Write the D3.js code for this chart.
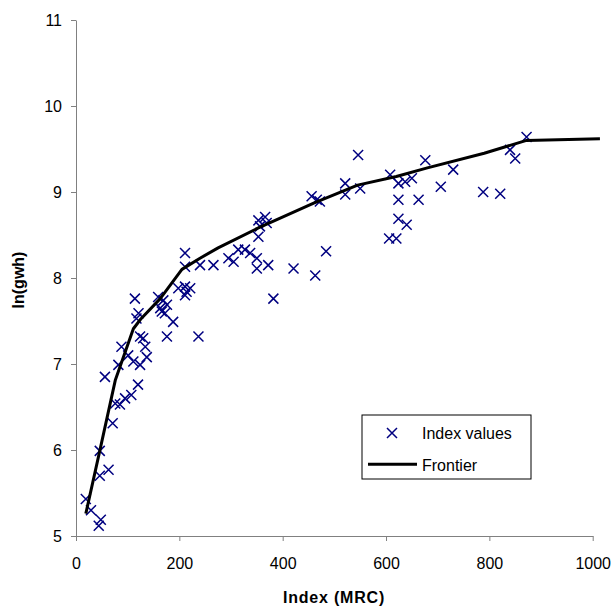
<!DOCTYPE html>
<html>
<head>
<meta charset="utf-8">
<script src="https://cdn.jsdelivr.net/npm/d3@7"></script>
<style>
  body { margin: 0; background: #fff; }
  svg { font-family: "Liberation Sans", Arial, sans-serif; }
  .axis path, .axis line { stroke: #808080; }
  .axis text { fill: #000; font-size: 16px; }
  .title { font-size: 16px; font-weight: bold; }
  .legend text { font-size: 16px; }
</style>
</head>
<body>
<svg id="canvas" width="616" height="608"></svg>
<script>
// index values (MRC) and ln(gwh)
const indexX = [19, 29, 48, 44, 46, 63, 46, 71,
  76, 85, 95, 107, 120, 56, 82, 88, 101, 111, 124, 130, 134, 137, 124,
  114, 121, 117, 159, 169, 163, 176, 166, 172, 188, 176, 237,
  198, 211, 221, 214, 211, 211, 211, 240, 266,
  295, 305, 314, 327, 337, 350, 350, 372, 353, 353, 366, 369, 356,
  421, 382, 463, 484,
  456, 466, 472, 521, 521, 550, 546,
  608, 624, 637, 650, 624, 663, 624, 640, 606, 620,
  676, 730, 706, 788, 821, 840, 850, 872];
const lnGwh = [5.43, 5.30, 5.19, 5.12, 5.70, 5.77, 5.99, 6.31,
  6.54, 6.53, 6.60, 6.64, 6.76, 6.85, 6.99, 7.20, 7.10, 7.03, 6.99, 7.30, 7.20, 7.08, 7.32,
  7.76, 7.59, 7.53, 7.78, 7.74, 7.65, 7.69, 7.61, 7.59, 7.49, 7.32, 7.32,
  7.88, 7.90, 7.88, 7.84, 7.80, 8.29, 8.13, 8.15, 8.15,
  8.23, 8.19, 8.33, 8.33, 8.29, 8.23, 8.11, 8.15, 8.48, 8.67, 8.71, 8.64, 8.60,
  8.11, 7.76, 8.03, 8.31,
  8.95, 8.91, 8.89, 9.10, 8.97, 9.04, 9.43,
  9.20, 9.10, 9.12, 9.16, 8.91, 8.91, 8.69, 8.62, 8.46, 8.46,
  9.37, 9.26, 9.06, 9.00, 8.98, 9.49, 9.39, 9.64];

// frontier
const frontierX = [19, 46, 76, 111, 125, 163, 205, 240, 275, 352, 460, 545, 620, 680, 790, 872, 1014];
const frontierY = [5.26, 5.99, 6.81, 7.41, 7.52, 7.76, 8.10, 8.23, 8.35, 8.58, 8.87, 9.08, 9.18, 9.28, 9.45, 9.60, 9.62];

const xTicks = [0, 200, 400, 600, 800, 1000];
const yTicks = [5, 6, 7, 8, 9, 10, 11];

const svg = d3.select("#canvas");

const x = d3.scaleLinear().domain([0, 1000]).range([76, 592.7]);
const y = d3.scaleLinear().domain([5, 11]).range([536, 20]);

svg.append("g").attr("class", "axis")
    .attr("transform", "translate(0,536)")
    .call(d3.axisBottom(x).tickValues(xTicks).tickFormat(d3.format("d"))
        .tickSize(5).tickSizeOuter(0).tickPadding(17));

svg.append("g").attr("class", "axis")
    .attr("transform", "translate(76,0)")
    .call(d3.axisLeft(y).tickValues(yTicks).tickFormat(d3.format("d"))
        .tickSize(5).tickSizeOuter(0).tickPadding(9));

const points = indexX.map((v, i) => ({x: v, y: lnGwh[i]}));
const frontier = frontierX.map((v, i) => ({x: v, y: frontierY[i]}));

// X markers
const s = 5;
const crossPath = `M${-s},${-s}L${s},${s}M${-s},${s}L${s},${-s}`;

svg.append("g").selectAll("path")
    .data(points)
    .enter().append("path")
    .attr("transform", d => `translate(${x(d.x)},${y(d.y)})`)
    .attr("d", crossPath)
    .attr("stroke", "#000080")
    .attr("stroke-width", 1.5)
    .attr("fill", "none");

svg.append("path")
    .datum(frontier)
    .attr("fill", "none")
    .attr("stroke", "#000")
    .attr("stroke-width", 3)
    .attr("stroke-linejoin", "round")
    .attr("d", d3.line().x(d => x(d.x)).y(d => y(d.y)));

// axis titles
svg.append("text").attr("class", "title")
    .attr("x", 334).attr("y", 603)
    .attr("text-anchor", "middle")
    .attr("letter-spacing", "0.8px")
    .text("Index (MRC)");

svg.append("text").attr("class", "title")
    .attr("transform", "translate(18,280) rotate(-90)")
    .attr("text-anchor", "middle")
    .attr("dy", "0.35em")
    .text("ln(gwh)");

// legend
const legend = svg.append("g").attr("class", "legend");
legend.append("rect")
    .attr("x", 362).attr("y", 415).attr("width", 169).attr("height", 64)
    .attr("fill", "#fff").attr("stroke", "#000").attr("stroke-width", 1);
legend.append("path")
    .attr("transform", "translate(392,433)")
    .attr("d", crossPath)
    .attr("stroke", "#000080").attr("stroke-width", 1.5).attr("fill", "none");
legend.append("text").attr("x", 422).attr("y", 439).text("Index values");
legend.append("line")
    .attr("x1", 368).attr("x2", 417).attr("y1", 464.3).attr("y2", 464.3)
    .attr("stroke", "#000").attr("stroke-width", 3);
legend.append("text").attr("x", 422).attr("y", 471).text("Frontier");
</script>
</body>
</html>
